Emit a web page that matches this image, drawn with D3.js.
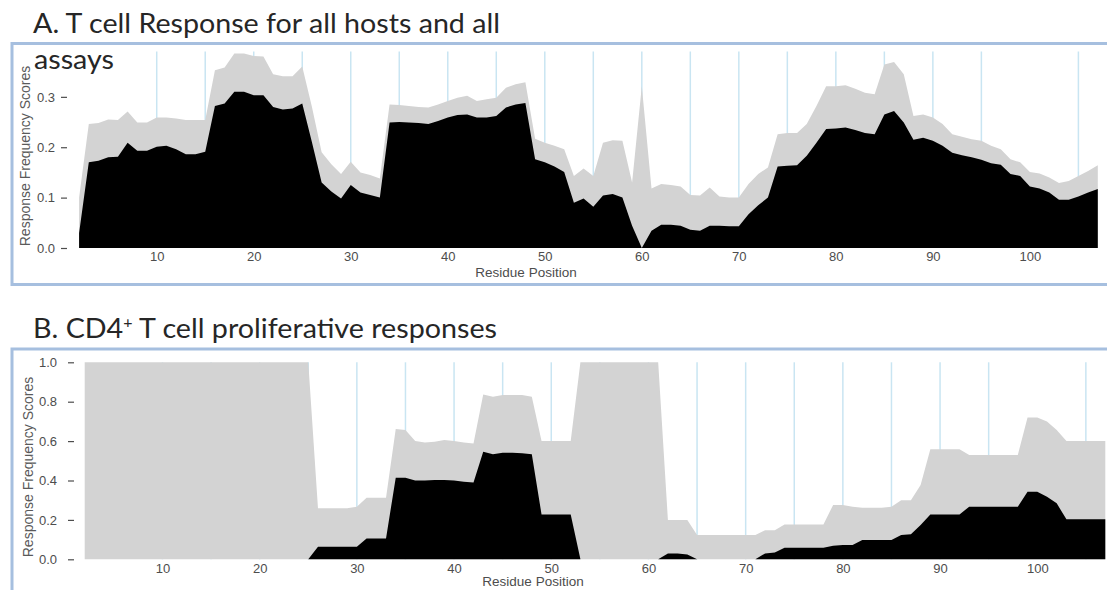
<!DOCTYPE html>
<html><head><meta charset="utf-8">
<script src="https://cdn.jsdelivr.net/npm/d3@7"></script>
<style>body{margin:0;background:#fff} svg{display:block}</style>
</head><body>
<svg id="chart" width="1107" height="590"></svg>
<script>
// ---------------- data ----------------
const residues = d3.range(2, 108); // residue positions 2..107

// Panel A: all hosts / all assays
const blackA = [0.030,0.170,0.173,0.180,0.181,0.209,0.193,0.193,0.201,0.203,
  0.196,0.186,0.186,0.191,0.282,0.287,0.310,0.310,0.303,0.303,
  0.280,0.275,0.277,0.287,0.210,0.130,0.112,0.098,0.125,0.110,
  0.105,0.100,0.249,0.250,0.249,0.248,0.246,0.252,0.259,0.264,
  0.265,0.259,0.259,0.262,0.279,0.285,0.288,0.176,0.170,0.162,
  0.151,0.090,0.098,0.082,0.104,0.107,0.100,0.044,0.000,0.034,
  0.046,0.046,0.044,0.036,0.034,0.044,0.044,0.043,0.043,0.067,
  0.085,0.100,0.162,0.163,0.164,0.183,0.209,0.236,0.237,0.239,
  0.234,0.228,0.226,0.265,0.272,0.249,0.215,0.219,0.213,0.203,
  0.189,0.184,0.180,0.175,0.168,0.165,0.147,0.143,0.122,0.118,
  0.110,0.096,0.096,0.102,0.110,0.117];
const greyA = [0.100,0.246,0.248,0.255,0.254,0.271,0.249,0.249,0.259,0.259,
  0.257,0.254,0.254,0.254,0.353,0.358,0.386,0.386,0.381,0.380,
  0.345,0.341,0.341,0.360,0.280,0.190,0.166,0.147,0.171,0.150,
  0.145,0.138,0.285,0.284,0.282,0.280,0.279,0.285,0.292,0.298,
  0.302,0.292,0.295,0.298,0.318,0.325,0.329,0.217,0.209,0.203,
  0.196,0.143,0.158,0.143,0.209,0.214,0.213,0.130,0.321,0.118,
  0.127,0.125,0.122,0.105,0.104,0.120,0.102,0.100,0.100,0.127,
  0.147,0.160,0.226,0.228,0.228,0.246,0.282,0.321,0.321,0.323,
  0.316,0.308,0.305,0.364,0.369,0.345,0.262,0.265,0.259,0.246,
  0.226,0.221,0.216,0.213,0.203,0.196,0.176,0.170,0.151,0.148,
  0.140,0.129,0.133,0.143,0.153,0.164];

// Panel B: CD4+ T cell proliferative responses
const blackB = [0,0,0,0,0,0,0,0,0,0,
  0,0,0,0,0,0,0,0,0,0,
  0,0,0,0,0.064,0.064,0.064,0.064,0.064,0.106,
  0.106,0.106,0.414,0.414,0.400,0.400,0.403,0.403,0.400,0.394,
  0.390,0.546,0.533,0.541,0.541,0.538,0.533,0.228,0.228,0.228,
  0.228,0,0,0,0,0,0,0,0,0,
  0.030,0.030,0.025,0,0,0,0,0,0,0,
  0.030,0.034,0.059,0.059,0.059,0.059,0.059,0.069,0.073,0.073,
  0.098,0.098,0.098,0.098,0.123,0.127,0.174,0.228,0.228,0.228,
  0.228,0.267,0.267,0.267,0.267,0.267,0.267,0.343,0.343,0.318,
  0.284,0.203,0.203,0.203,0.203,0.203];
const greyB = [1,1,1,1,1,1,1,1,1,1,
  1,1,1,1,1,1,1,1,1,1,
  1,1,1,1,0.259,0.259,0.259,0.259,0.267,0.313,
  0.313,0.313,0.661,0.656,0.600,0.593,0.597,0.605,0.600,0.593,
  0.588,0.837,0.825,0.834,0.834,0.834,0.825,0.600,0.600,0.600,
  0.600,1,1,1,1,1,1,1,1,1,
  0.200,0.200,0.200,0.123,0.123,0.123,0.123,0.123,0.123,0.123,
  0.148,0.148,0.177,0.177,0.177,0.177,0.177,0.276,0.276,0.267,
  0.262,0.262,0.262,0.267,0.300,0.300,0.377,0.558,0.558,0.558,
  0.558,0.530,0.530,0.530,0.530,0.530,0.530,0.720,0.720,0.699,
  0.656,0.600,0.600,0.600,0.600,0.600];

const xTicks = [10,20,30,40,50,60,70,80,90,100];
const gridResidues = [10,15,20,25,30,35,40,45,50,55,60,65,70,75,80,85,90,95,105];
const yTicksA = [0,0.1,0.2,0.3];
const yTicksB = [0,0.2,0.4,0.6,0.8,1.0];
const titleA = ["A. T cell Response for all hosts and all", "assays"];
const titleB = ["B. CD4", "+", " T cell proliferative responses"];
const xLabel = "Residue Position";
const yLabel = "Response Frequency Scores";

// ---------------- drawing ----------------
const svg = d3.select("#chart");
const FRAME = "#a6bfdf", GRID = "#c9e5f2", GREY = "#d3d3d3", INK = "#4d4d4d";
const TICKFONT = "'Liberation Sans', Arial, sans-serif";
const TITLEFONT = "Lato, 'Open Sans', sans-serif";

function drawPanel(p) {
  const g = svg.append("g");
  // frame
  g.append("rect").attr("x", 12).attr("y", p.frameTop).attr("width", 1120)
    .attr("height", p.frameH).attr("fill", "#fff")
    .attr("stroke", FRAME).attr("stroke-width", 3);

  const x = d3.scaleLinear().domain([2, 107]).range(p.xr);
  const y = d3.scaleLinear().domain(p.yd).range(p.yr);

  // vertical grid lines
  g.append("g").selectAll("line").data(gridResidues).join("line")
    .attr("x1", d => x(d)).attr("x2", d => x(d))
    .attr("y1", y.range()[1]).attr("y2", y.range()[0])
    .attr("stroke", GRID).attr("stroke-width", 1.5);

  const rows = residues.map((r, i) => ({r, b: p.black[i], t: p.grey[i]}));
  const areaT = d3.area().x(d => x(d.r)).y0(y(0)).y1(d => y(d.t));
  const areaB = d3.area().x(d => x(d.r)).y0(y(0)).y1(d => y(d.b));
  g.append("path").datum(rows).attr("d", areaT).attr("fill", GREY);
  g.append("path").datum(rows).attr("d", areaB).attr("fill", "#000");

  // y axis (lattice style: label, dash, gap)
  const ya = g.append("g").attr("transform", `translate(${p.yAxisX},0)`)
    .call(d3.axisLeft(y).tickValues(p.yTicks).tickFormat(d3.format(".1f"))
      .tickSize(6).tickPadding(p.yPad));
  ya.select(".domain").remove();
  ya.selectAll("line").attr("stroke", INK).attr("stroke-width", 1.2);
  ya.selectAll("text").attr("font-family", TICKFONT).attr("font-size", 13).attr("fill", INK);

  // x axis
  const xa = g.append("g").attr("transform", `translate(0,${y(0)})`)
    .call(d3.axisBottom(x).tickValues(xTicks).tickSize(0).tickPadding(p.xPad));
  xa.select(".domain").remove();
  xa.selectAll("text").attr("font-family", TICKFONT).attr("font-size", 13).attr("fill", INK);

  // axis titles
  g.append("text").attr("x", p.xLabX).attr("y", p.xLabY).attr("text-anchor", "middle")
    .attr("font-family", TICKFONT).attr("font-size", 13.5).attr("fill", INK).text(xLabel);
  g.append("text").attr("transform", `translate(${p.yLabX},${p.yLabY}) rotate(-90)`)
    .attr("text-anchor", "middle").attr("font-family", TICKFONT).attr("font-size", 14)
    .attr("fill", "#5a5a5a").text(yLabel);
}

drawPanel({frameTop: 43.5, frameH: 241, xr: [79.1, 1097.8], yd: [0, 0.39], yr: [248, 51.5],
  black: blackA, grey: greyA, yTicks: yTicksA, yAxisX: 67, yPad: 6, xPad: 4,
  xLabX: 526, xLabY: 277, yLabX: 30, yLabY: 156});
drawPanel({frameTop: 349, frameH: 300, xr: [84.7, 1105.3], yd: [0, 1], yr: [559.3, 362.3],
  black: blackB, grey: greyB, yTicks: yTicksB, yAxisX: 74, yPad: 11, xPad: 4,
  xLabX: 533, xLabY: 585.5, yLabX: 33, yLabY: 467});

// titles
svg.append("text").attr("x", 33).attr("y", 33).attr("font-family", TITLEFONT)
  .attr("font-size", 27).attr("fill", "#262626")
  .attr("textLength", 467).attr("lengthAdjust", "spacingAndGlyphs").text(titleA[0]);
svg.append("text").attr("x", 34).attr("y", 68.5).attr("font-family", TITLEFONT)
  .attr("font-size", 27).attr("fill", "#262626")
  .attr("textLength", 80).attr("lengthAdjust", "spacingAndGlyphs").text(titleA[1]);
const tb = svg.append("text").attr("x", 33).attr("y", 338).attr("font-family", TITLEFONT)
  .attr("font-size", 27).attr("fill", "#262626")
  .attr("textLength", 464).attr("lengthAdjust", "spacingAndGlyphs");
tb.append("tspan").text(titleB[0]);
tb.append("tspan").attr("dy", -10).attr("font-size", 15).text(titleB[1]);
tb.append("tspan").attr("dy", 10).text(titleB[2]);
</script>
</body></html>
